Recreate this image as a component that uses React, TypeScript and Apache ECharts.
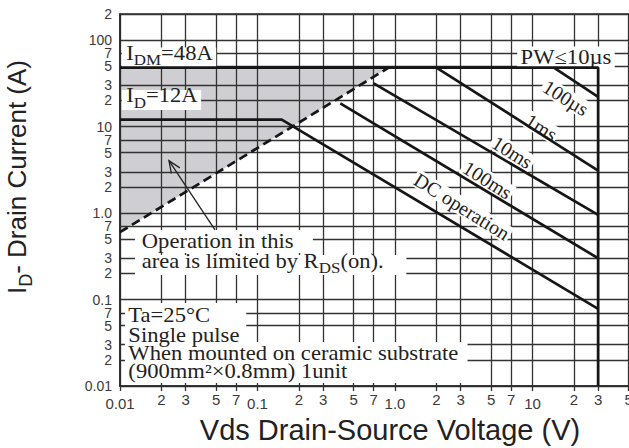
import React, { useEffect, useRef } from "react";
import * as echarts from "echarts";

// ---------- axis ticks (log scales) ----------
const xTickValues = [0.01, 0.02, 0.03, 0.05, 0.07, 0.1, 0.2, 0.3, 0.5, 0.7, 1, 2, 3, 5, 7, 10, 20, 30, 50, 70, 100];
const xTickLabels = ["0.01", "2", "3", "5", "7", "0.1", "2", "3", "5", "7", "1.0", "2", "3", "5", "7", "10", "2", "3", "5", "7", "100"];
const yTickValues = [0.01, 0.02, 0.03, 0.05, 0.07, 0.1, 0.2, 0.3, 0.5, 0.7, 1, 2, 3, 5, 7, 10, 20, 30, 50, 70, 100, 200];
const yTickLabels = ["0.01", "2", "3", "5", "7", "0.1", "2", "3", "5", "7", "1.0", "2", "3", "5", "7", "10", "2", "3", "5", "7", "100", "2"];

// ---------- safe operating area boundaries: [Vds (V), Id (A)] ----------
const pw10usLine = [[0.01, 48], [30, 48], [30, 0.01]];
const dcLine = [[0.01, 12], [0.15, 12], [30, 0.078]];
const ms100Line = [[0.4, 18.5], [30, 0.3]];
const ms10Line = [[0.7, 31.6], [30, 0.95]];
const ms1Line = [[2, 48], [30, 3.1]];
const us100Line = [[14.3, 48], [30, 22]];
const rdsOnLine = [[0.01, 0.6], [0.9, 48]];
const rdsOnArea = [[0.01, 48], [0.9, 48], [0.01, 0.6]];
const arrowPoints = [[0.0491, 0.637], [0.0227, 4.03]];

// ---------- curve labels ----------
const curveLabelTexts = ["100µs", "1ms", "10ms", "100ms", "DC operation"];
const curveLabelAt = [[17.5, 21.4], [11.6, 9.8], [7.13, 5.04], [4.71, 2.41], [3.07, 1.19]];

const serif = "'Liberation Serif', 'Times New Roman', serif";
const sans = "'Liberation Sans', Arial, sans-serif";
const ink = "#222222";
const lineColor = "#161616";

const subRich = {
  m: { fontSize: 20, lineHeight: 20, padding: [0, 0, 4, 0], verticalAlign: "bottom", fontFamily: serif, fill: ink },
  s: { fontSize: 15, lineHeight: 15, verticalAlign: "bottom", fontFamily: serif, fill: ink },
};

// annotation layout (anchors in data coordinates)
const notes = [
  { text: "{m|I}{s|DM}{m|=48A}", at: [0.0103, 63], align: "left", vAlign: "middle", padding: [0, 3, 0, 4], scaleX: 1.13 },
  { text: "{m|I}{s|D}{m|=12A}", at: [0.0103, 20.3], align: "left", vAlign: "middle", padding: [0, 3, 0, 4], scaleX: 1.13 },
  { text: "PW≤10µs", at: [17.5, 63], align: "center", vAlign: "middle", padding: [1, 3, 1, 3], scaleX: 1.13, lineHeight: 20 },
  { text: "Operation in this", at: [0.01286, 0.469], align: "left", vAlign: "middle", padding: [1, 17, 1, 6], scaleX: 1.13, lineHeight: 21 },
  { text: "{m|area is limited by R}{s|DS}{m|(on).}", at: [0.01286, 0.2506], align: "left", vAlign: "middle", padding: [0, 20, 0, 6], scaleX: 1.13 },
  { text: "When mounted on ceramic substrate\n(900mm²×0.8mm) 1unit", at: [0.01087, 0.0323], align: "left", vAlign: "top", padding: [2, 8, 2, 3], scaleX: 1.13, lineHeight: 18.5 },
  { text: "Ta=25°C\nSingle pulse", at: [0.01087, 0.091], align: "left", vAlign: "top", padding: [3, 6, 1, 3], scaleX: 1.13, lineHeight: 19.5 },
];

function tickLabel(values: number[], labels: string[], v: number) {
  let best = 0;
  let bd = Infinity;
  values.forEach((t, i) => {
    const d = Math.abs(Math.log10(t) - Math.log10(v));
    if (d < bd) {
      bd = d;
      best = i;
    }
  });
  return labels[best];
}

function soaLine(name: string, data: number[][], dashed = false) {
  return {
    type: "line",
    name,
    data,
    symbol: "none",
    silent: true,
    z: 4,
    lineStyle: { color: lineColor, width: 2.7, type: dashed ? [9, 5] : "solid", cap: "butt" },
  };
}

function buildOption() {
  const annotations = [
    ...notes.map((n) => ({ ...n, rotate: 0, kind: "note" })),
    ...curveLabelTexts.map((t, i) => ({
      text: t,
      at: curveLabelAt[i],
      align: "center",
      vAlign: "middle",
      padding: [0, 2, 0, 2],
      scaleX: 1,
      rotate: -32,
      lineHeight: 18,
      kind: "curve",
    })),
  ];

  return {
    animation: false,
    backgroundColor: "#ffffff",
    grid: {
      left: 120,
      right: 0,
      top: 14,
      bottom: 62,
      show: true,
      borderColor: "#2b2b2b",
      borderWidth: 1.6,
      backgroundColor: "transparent",
      containLabel: false,
      outerBoundsMode: "none",
    },
    xAxis: {
      type: "log",
      logBase: 10,
      min: 0.01,
      max: 100,
      axisLine: { show: true, lineStyle: { color: "#2b2b2b", width: 1.6 } },
      axisTick: { show: true, inside: false, length: 5, customValues: xTickValues, lineStyle: { color: "#333", width: 1.3 } },
      axisLabel: {
        customValues: xTickValues,
        margin: 6,
        color: "#3a3a3a",
        fontFamily: sans,
        fontSize: 15,
        formatter: (v: number) => {
          const s = tickLabel(xTickValues, xTickLabels, v);
          return s.length > 1 ? `{d|${s}}` : `{m|${s}}`;
        },
        rich: {
          m: { fontSize: 15, color: "#3a3a3a", fontFamily: sans },
          d: { fontSize: 15, color: "#3a3a3a", fontFamily: sans, padding: [4, 0, 0, 0] },
        },
      },
      splitLine: { show: true, customValues: xTickValues, lineStyle: { color: "#333", width: 1.3 } },
      minorTick: { show: false },
      minorSplitLine: { show: false },
    },
    yAxis: {
      type: "log",
      logBase: 10,
      min: 0.01,
      max: 200,
      axisLine: { show: true, lineStyle: { color: "#2b2b2b", width: 1.6 } },
      axisTick: { show: false, customValues: yTickValues },
      axisLabel: {
        customValues: yTickValues,
        margin: 8,
        color: "#3a3a3a",
        fontFamily: sans,
        fontSize: 14,
        lineHeight: 12,
        formatter: (v: number) => tickLabel(yTickValues, yTickLabels, v),
      },
      splitLine: { show: true, customValues: yTickValues, lineStyle: { color: "#333", width: 1.3 } },
      minorTick: { show: false },
      minorSplitLine: { show: false },
    },
    graphic: [
      {
        type: "text",
        x: 22,
        y: 177,
        rotation: Math.PI / 2,
        silent: true,
        style: {
          text: "{m|I}{s|D}{m|- Drain Current (A)}",
          align: "center",
          verticalAlign: "middle",
          fill: ink,
          fontFamily: sans,
          fontSize: 26,
          rich: {
            m: { fontSize: 26, lineHeight: 26, padding: [0, 0, 5, 0], verticalAlign: "bottom", fontFamily: sans, fill: ink },
            s: { fontSize: 18, lineHeight: 18, verticalAlign: "bottom", fontFamily: sans, fill: ink },
          },
        },
      },
      {
        type: "text",
        x: 390,
        y: 430,
        silent: true,
        style: {
          text: "Vds Drain-Source Voltage (V)",
          align: "center",
          verticalAlign: "middle",
          fill: ink,
          fontFamily: sans,
          fontSize: 29,
        },
      },
    ],
    series: [
      {
        type: "custom",
        name: "RDS(on) limited area",
        z: -1,
        silent: true,
        data: rdsOnArea,
        renderItem: (params: any, api: any) => {
          if (params.dataIndex !== 0) return null;
          return {
            type: "polygon",
            shape: { points: rdsOnArea.map((p) => api.coord(p)) },
            style: { fill: "#cfcfd3" },
          };
        },
      },
      soaLine("PW≤10µs", pw10usLine),
      soaLine("DC operation", dcLine),
      soaLine("100ms", ms100Line),
      soaLine("10ms", ms10Line),
      soaLine("1ms", ms1Line),
      soaLine("100µs", us100Line),
      soaLine("RDS(on)", rdsOnLine, true),
      {
        type: "custom",
        name: "annotations",
        z: 3,
        silent: true,
        data: annotations.map((a) => a.at),
        renderItem: (params: any, api: any) => {
          const a: any = annotations[params.dataIndex];
          const p = api.coord(a.at);
          const style: any = {
            text: a.text,
            align: a.align,
            verticalAlign: a.vAlign,
            fill: ink,
            fontFamily: serif,
            fontSize: 20,
            backgroundColor: "#ffffff",
            padding: a.padding,
            rich: subRich,
          };
          if (a.lineHeight) style.lineHeight = a.lineHeight;
          return {
            type: "text",
            x: p[0],
            y: p[1],
            rotation: (a.rotate * Math.PI) / 180,
            scaleX: a.scaleX,
            style,
          };
        },
      },
      {
        type: "custom",
        name: "arrow",
        z: 5,
        silent: true,
        data: arrowPoints,
        renderItem: (params: any, api: any) => {
          if (params.dataIndex !== 0) return null;
          const a = api.coord(arrowPoints[0]);
          const b = api.coord(arrowPoints[1]);
          const ang = Math.atan2(b[1] - a[1], b[0] - a[0]);
          const L = 13;
          const sp = 0.4;
          const p1 = [b[0] - L * Math.cos(ang - sp), b[1] - L * Math.sin(ang - sp)];
          const p2 = [b[0] - L * Math.cos(ang + sp), b[1] - L * Math.sin(ang + sp)];
          return {
            type: "group",
            children: [
              { type: "line", shape: { x1: a[0], y1: a[1], x2: b[0], y2: b[1] }, style: { stroke: ink, lineWidth: 1.3 } },
              { type: "polyline", shape: { points: [p1, b, p2] }, style: { stroke: ink, lineWidth: 1.3, fill: null } },
            ],
          };
        },
      },
    ],
  };
}

export default function App() {
  const ref = useRef<HTMLDivElement>(null);
  useEffect(() => {
    if (!ref.current) return;
    const chart = echarts.init(ref.current, undefined, { renderer: "svg" });
    chart.setOption(buildOption() as any);
    return () => chart.dispose();
  }, []);
  return (
    <div
      style={{
        position: "absolute",
        left: 0,
        top: 0,
        width: 629,
        height: 448,
        overflow: "hidden",
        background: "#fff",
      }}
    >
      <div ref={ref} style={{ width: 670, height: 448 }} />
    </div>
  );
}
